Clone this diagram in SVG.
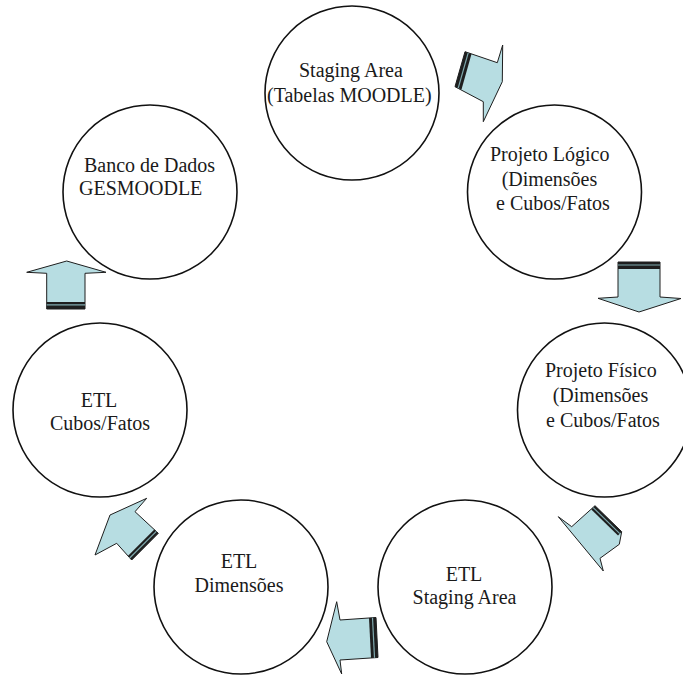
<svg xmlns="http://www.w3.org/2000/svg" width="683" height="680" viewBox="0 0 683 680">
<style>
.c{fill:#fff;stroke:#111;stroke-width:1.6}
.t{font-family:"Liberation Serif","Times New Roman",serif;font-size:20px;fill:#1a1a1a}
.m{text-anchor:middle}
.a{fill:#b7dde2;stroke:#1e1e1e;stroke-width:1;stroke-linejoin:miter}
.b{fill:#1e1e1e;stroke:none}
.s{fill:none;stroke:#7fa9ae;stroke-width:1.2}
</style>
<rect width="683" height="680" fill="#fff"/>
<g id="connectors">
  <g id="arrow1">
    <polygon class="a" points="465,51.7 497.3,62.7 502.7,45 502.3,81.7 483.3,121.7 483.3,101.7 455,86.7"/>
    <polygon class="b" points="465,51.7 471.5,54 461.5,89.5 455,86.7"/>
    <line class="s" x1="468.2" y1="52.9" x2="458.2" y2="88.1"/>
  </g>
  <g id="arrow2">
    <polygon class="a" points="618,262 660,262 660,297 681,298.5 639,312 598,298.3 618,297"/>
    <rect class="b" x="618" y="262" width="42" height="7"/>
    <line class="s" x1="618" y1="265" x2="660" y2="265"/>
  </g>
  <g id="arrow3">
    <polygon class="a" points="595,505.7 571.7,526.7 558.3,516.7 603.3,571 600,558.3 619.3,544.3 621.7,531.7"/>
    <polygon class="b" points="595,505.7 621.7,531.7 618,535.5 591.3,509.5"/>
    <line class="s" x1="593.2" y1="507.6" x2="619.8" y2="533.6"/>
  </g>
  <g id="arrow4">
    <polygon class="a" points="336.7,601.7 340,620 376,617.5 378,657.5 340,660 341.7,674 326.7,641.7"/>
    <polygon class="b" points="369,618 376,617.5 378,657.5 371,658"/>
    <line class="s" x1="372.5" y1="617.8" x2="374.5" y2="657.8"/>
  </g>
  <g id="arrow5">
    <polygon class="a" points="146.7,498.3 135,511.7 158.3,533.3 131.7,560 116.7,543.3 95,555 110,515"/>
    <polygon class="b" points="158.3,533.3 131.7,560 127.8,556 154.3,529.5"/>
    <line class="s" x1="156.3" y1="531.4" x2="129.7" y2="558"/>
  </g>
  <g id="arrow6">
    <polygon class="a" points="66.7,261 106,272.3 85,273.3 85,309 46.7,309 46.7,273.3 26.7,272.3"/>
    <rect class="b" x="46.7" y="302" width="38.3" height="7"/>
    <line class="s" x1="46.7" y1="304.8" x2="85" y2="304.8"/>
  </g>
</g>
<g id="staging">
  <circle class="c" cx="352" cy="93" r="87"/>
  <text class="t" x="299" y="77">Staging Area</text>
  <text class="t" x="267" y="102">(Tabelas MOODLE)</text>
</g>
<g id="logico">
  <circle class="c" cx="554.5" cy="192" r="87"/>
  <text class="t" x="490" y="161">Projeto Lógico</text>
  <text class="t" x="501.7" y="186">(Dimensões</text>
  <text class="t" x="496" y="210">e Cubos/Fatos</text>
</g>
<g id="fisico">
  <circle class="c" cx="604.5" cy="410" r="87"/>
  <text class="t" x="545" y="377">Projeto Físico</text>
  <text class="t" x="552.7" y="402">(Dimensões</text>
  <text class="t" x="546" y="427">e Cubos/Fatos</text>
</g>
<g id="etl-staging">
  <circle class="c" cx="465" cy="587" r="87"/>
  <text class="t m" x="464" y="580.7">ETL</text>
  <text class="t m" x="464.5" y="604">Staging Area</text>
</g>
<g id="etl-dimensoes">
  <circle class="c" cx="241" cy="587" r="87"/>
  <text class="t m" x="239" y="568">ETL</text>
  <text class="t m" x="239" y="592">Dimensões</text>
</g>
<g id="etl-cubos">
  <circle class="c" cx="100" cy="410" r="87"/>
  <text class="t m" x="99" y="407">ETL</text>
  <text class="t m" x="100" y="430">Cubos/Fatos</text>
</g>
<g id="banco">
  <circle class="c" cx="150" cy="192" r="87"/>
  <text class="t" x="84" y="172">Banco de Dados</text>
  <text class="t" x="79" y="195">GESMOODLE</text>
</g>
</svg>
